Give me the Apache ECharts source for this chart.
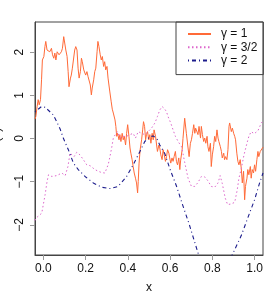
<!DOCTYPE html>
<html><head><meta charset="utf-8">
<script src="https://cdn.jsdelivr.net/npm/echarts@6/dist/echarts.min.js"></script>
<style>html,body{margin:0;padding:0;background:#fff}#c{width:269px;height:302px}</style>
</head><body><div id="c"></div>
<script>
const xTicks = [0, 0.2, 0.4, 0.6, 0.8, 1.0];
const yTicks = [-2, -1, 0, 1, 2];
const seriesNames = ['γ = 1', 'γ = 3/2', 'γ = 2'];
const yTitle = 'Z(x)';
const xTitle = 'x';

// gamma = 1 (rough)
const g1x = [-0.040,-0.036,-0.030,-0.025,-0.020,-0.014,-0.009,-0.005,0.002,0.007,0.011,0.017,0.022,0.030,0.038,0.043,0.049,0.054,0.059,0.065,0.069,0.074,0.080,0.085,0.090,0.096,0.101,0.106,0.112,0.117,0.121,0.128,0.132,0.137,0.144,0.148,0.153,0.159,0.164,0.169,0.175,0.180,0.184,0.191,0.196,0.200,0.206,0.211,0.216,0.222,0.227,0.231,0.238,0.243,0.248,0.254,0.258,0.263,0.269,0.274,0.279,0.285,0.290,0.295,0.301,0.306,0.314,0.321,0.326,0.331,0.339,0.343,0.347,0.351,0.358,0.362,0.367,0.373,0.378,0.383,0.389,0.394,0.399,0.405,0.410,0.414,0.420,0.425,0.430,0.436,0.441,0.446,0.449,0.453,0.458,0.465,0.470,0.474,0.479,0.484,0.488,0.493,0.499,0.504,0.509,0.515,0.520,0.524,0.531,0.536,0.540,0.547,0.551,0.556,0.562,0.567,0.572,0.578,0.583,0.588,0.594,0.598,0.603,0.609,0.614,0.619,0.625,0.630,0.635,0.641,0.646,0.650,0.657,0.661,0.669,0.674,0.677,0.685,0.690,0.696,0.701,0.706,0.712,0.717,0.721,0.727,0.732,0.737,0.744,0.748,0.753,0.759,0.764,0.769,0.775,0.779,0.784,0.791,0.795,0.800,0.806,0.811,0.816,0.822,0.827,0.831,0.838,0.843,0.847,0.854,0.858,0.863,0.869,0.874,0.879,0.882,0.890,0.895,0.901,0.906,0.910,0.916,0.921,0.926,0.932,0.937,0.942,0.948,0.953,0.957,0.964,0.968,0.973,0.980,0.984,0.989,0.995,1.000,1.005,1.011,1.016,1.020,1.027,1.032,1.036,1.040];
const g1y = [0.45,0.51,0.74,0.90,0.78,0.90,1.36,1.82,1.90,2.13,2.25,2.05,2.09,2.01,2.09,1.94,1.86,1.98,1.82,2.01,2.05,1.94,1.90,2.01,2.09,2.36,2.40,2.05,1.90,1.55,1.20,1.40,1.47,1.63,1.67,2.05,2.13,2.05,1.63,1.40,1.55,1.86,1.78,1.59,1.63,1.47,1.55,1.44,1.40,1.24,1.01,1.17,1.36,1.55,1.63,2.01,2.25,2.13,1.94,1.82,1.90,1.67,1.78,1.59,1.67,1.40,1.10,0.85,0.68,0.59,0.43,0.28,0.05,0.12,-0.03,0.09,-0.07,0.12,-0.03,0.05,-0.15,0.12,0.32,0.05,-0.22,-0.34,-0.49,-0.65,-0.80,-0.92,-1.03,-1.26,-1.00,-0.57,-0.26,-0.03,0.20,0.39,0.28,-0.03,0.09,0.16,-0.03,0.09,-0.11,0.12,-0.03,0.20,0.05,-0.15,-0.30,-0.15,-0.22,-0.38,-0.49,-0.26,-0.38,-0.53,-0.42,-0.26,-0.34,-0.45,-0.57,-0.45,-0.53,-0.42,-0.30,-0.53,-0.61,-0.45,-0.72,-0.50,-0.26,0.00,0.47,0.51,0.12,-0.22,-0.42,-0.11,-0.03,0.12,0.32,0.12,0.24,0.28,0.09,0.28,0.01,0.28,0.09,-0.07,0.01,-0.11,0.05,-0.19,-0.30,-0.11,-0.65,-0.38,-0.19,0.05,-0.07,0.20,0.01,-0.07,-0.19,-0.30,-0.45,-0.34,-0.49,-0.42,-0.49,-0.26,0.28,0.36,0.16,0.24,0.12,0.05,-0.03,-0.34,-0.53,-0.61,-0.49,-0.69,-1.03,-0.76,-1.42,-1.11,-0.92,-0.72,-0.84,-0.65,-0.92,-0.72,-0.80,-0.61,-0.76,-0.49,-0.30,-0.42,-0.30,-0.34,-0.26,-0.20];

// gamma = 3/2
const g2x = [-0.040,-0.034,-0.008,0.008,0.017,0.024,0.028,0.040,0.047,0.063,0.071,0.087,0.094,0.103,0.108,0.116,0.126,0.134,0.145,0.158,0.173,0.189,0.205,0.221,0.244,0.260,0.276,0.291,0.299,0.307,0.315,0.323,0.331,0.339,0.351,0.362,0.378,0.394,0.410,0.425,0.436,0.449,0.465,0.480,0.496,0.512,0.528,0.540,0.551,0.562,0.572,0.583,0.590,0.603,0.614,0.625,0.638,0.654,0.661,0.669,0.685,0.701,0.717,0.732,0.748,0.764,0.779,0.795,0.811,0.827,0.837,0.847,0.861,0.872,0.887,0.896,0.906,0.918,0.926,0.937,0.950,0.964,0.973,0.984,0.998,1.016,1.032,1.040];
const g2y = [-1.90,-1.84,-1.73,-1.30,-1.00,-0.84,-0.80,-0.88,-0.86,-0.86,-0.84,-0.80,-0.80,-0.86,-0.84,-0.65,-0.34,-0.30,-0.42,-0.32,-0.38,-0.49,-0.61,-0.63,-0.72,-0.76,-0.79,-0.80,-0.84,-0.60,-0.42,-0.22,0.01,0.08,0.16,0.01,0.05,0.05,0.09,0.12,0.01,0.16,0.12,0.09,0.16,0.24,0.36,0.51,0.66,0.74,0.70,0.62,0.51,0.36,0.20,0.05,-0.07,-0.19,-0.35,-0.55,-0.92,-1.11,-1.11,-1.02,-0.88,-0.89,-0.98,-1.11,-1.13,-1.03,-0.86,-1.04,-1.38,-1.53,-1.52,-1.56,-1.48,-1.19,-0.92,-0.70,-0.38,-0.11,0.05,0.16,0.11,0.18,0.36,0.40];

// gamma = 2 (smooth)
const g3x = [-0.040,-0.036,-0.009,0.011,0.022,0.046,0.063,0.079,0.094,0.118,0.142,0.165,0.197,0.236,0.276,0.315,0.354,0.394,0.425,0.457,0.480,0.504,0.520,0.537,0.551,0.575,0.600,0.630,0.660,0.690,0.732,0.760,0.790,0.820,0.850,0.875,0.895,0.937,0.968,1.000,1.024,1.040];
const g3y = [0.62,0.64,0.74,0.72,0.66,0.55,0.39,0.22,0.01,-0.26,-0.57,-0.72,-0.88,-1.03,-1.13,-1.16,-1.11,-0.88,-0.61,-0.30,-0.07,0.04,0.06,0.00,-0.15,-0.35,-0.72,-1.10,-1.55,-1.98,-2.65,-3.00,-3.20,-3.25,-3.10,-2.90,-2.69,-2.25,-1.84,-1.42,-1.03,-0.80];

const pairs = (xs, ys) => xs.map((x, i) => [x, ys[i]]);
const font = 'Liberation Sans, Arial, Helvetica, sans-serif';
const minus = s => String(s).replace('-', '\u2212');

const chart = echarts.init(document.getElementById('c'), null, {renderer: 'canvas'});
chart.setOption({
  animation: false,
  backgroundColor: '#fff',
  textStyle: {fontFamily: font},
  grid: {left: 35, right: 6, top: 22, bottom: 47, show: true, borderColor: '#444', borderWidth: 1, backgroundColor: 'transparent'},
  legend: {
    left: 176, top: 22, orient: 'vertical',
    borderColor: '#444', borderWidth: 1,
    padding: [6, 6, 8, 11], itemGap: 1.3,
    itemWidth: 23, itemHeight: 14,
    itemStyle: {color: 'transparent', borderColor: 'transparent', borderWidth: 0},
    textStyle: {fontFamily: font, fontSize: 12, color: '#111', padding: [0, 0, 0, 5]},
    data: seriesNames
  },
  graphic: [{
    type: 'text', x: -3, y: 138.5, rotation: Math.PI / 2, silent: true,
    style: {text: yTitle, x: 0, y: 0, align: 'center', verticalAlign: 'middle', fontFamily: font, fontSize: 12, fill: '#111'}
  }],
  xAxis: {
    type: 'value', min: -0.04, max: 1.04,
    name: xTitle, nameLocation: 'middle', nameGap: 27,
    nameTextStyle: {fontFamily: font, fontSize: 12, color: '#111'},
    axisLine: {show: true, onZero: false, lineStyle: {color: '#444'}},
    axisTick: {show: true, length: 5, customValues: xTicks, lineStyle: {color: '#999'}},
    axisLabel: {customValues: xTicks, margin: 8, fontSize: 12, color: '#111', fontFamily: font, formatter: v => v.toFixed(1)},
    splitLine: {show: false}
  },
  yAxis: {
    type: 'value', min: -2.7, max: 2.7,
    axisLine: {show: true, onZero: false, lineStyle: {color: '#444'}},
    axisTick: {show: true, length: 5, customValues: yTicks, lineStyle: {color: '#999'}},
    axisLabel: {customValues: yTicks, rotate: 90, margin: 9, fontSize: 12, color: '#111', fontFamily: font, formatter: v => minus(v)},
    splitLine: {show: false}
  },
  series: [
    {name: seriesNames[0], type: 'line', data: pairs(g1x, g1y), symbol: 'none', clip: true,
     lineStyle: {color: '#ff6a38', width: 1}, itemStyle: {color: '#ff6a38'}},
    {name: seriesNames[1], type: 'line', data: pairs(g2x, g2y), symbol: 'none', clip: true,
     lineStyle: {color: '#dd66cc', width: 1, type: [1.5, 2.5]}, itemStyle: {color: '#dd66cc'}},
    {name: seriesNames[2], type: 'line', data: pairs(g3x, g3y), symbol: 'none', clip: true,
     lineStyle: {color: '#1c1c8c', width: 1.1, type: [1, 3, 4, 3]}, itemStyle: {color: '#1c1c8c'}}
  ]
});
</script></body></html>
